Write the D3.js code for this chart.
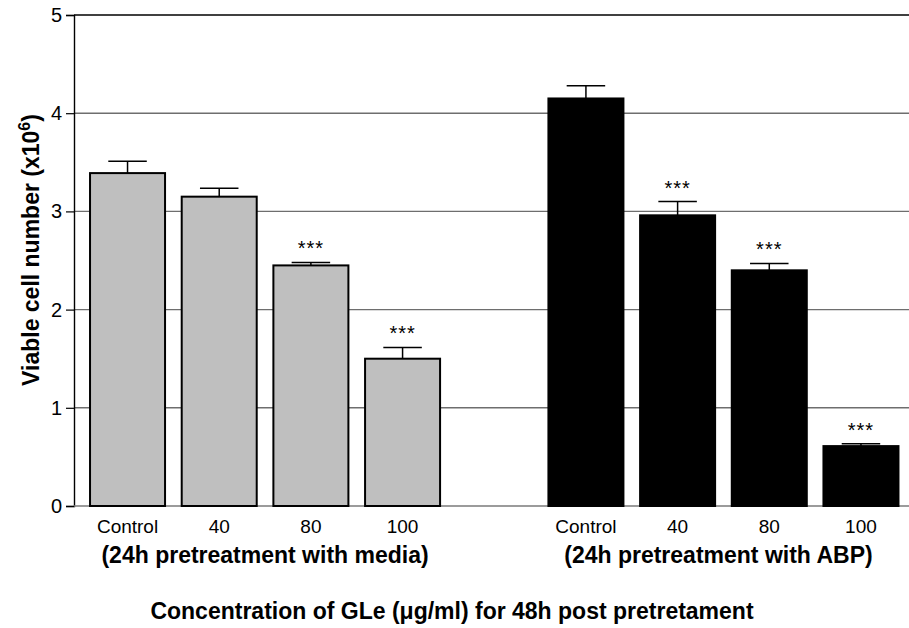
<!DOCTYPE html>
<html>
<head>
<meta charset="utf-8">
<script src="https://cdn.jsdelivr.net/npm/d3@7"></script>
<style>
  html, body { margin: 0; padding: 0; background: #fff; }
  svg text { font-family: "Liberation Sans", Arial, Helvetica, sans-serif; fill: #000; }
</style>
</head>
<body>
<svg id="chart" width="909" height="628"></svg>
<script>
// Viable cell counts (x10^6) after 48 h GLe exposure, two pretreatment groups
const categories = ["Control", "40", "80", "100", "gap", "Control ", "40 ", "80 ", "100 "];
const tickLabels = ["Control", "40", "80", "100", "", "Control", "40", "80", "100"];
const groups     = ["media", "media", "media", "media", "none", "ABP", "ABP", "ABP", "ABP"];
const means      = [3.39, 3.15, 2.45, 1.50, 0, 4.15, 2.96, 2.40, 0.61];
const sems       = [0.12, 0.085, 0.03, 0.115, 0, 0.13, 0.14, 0.07, 0.025];
const stars      = ["", "", "***", "***", "", "", "***", "***", "***"];
const yTicks     = [0, 1, 2, 3, 4, 5];
const groupLabels = [
  { group: "media", text: "(24h pretreatment with media)" },
  { group: "ABP",   text: "(24h pretreatment with ABP)" }
];

const svg = d3.select("#chart");
const W = 909;

const x = d3.scaleBand()
  .domain(categories)
  .range([74, 914.5])
  .paddingInner(0.16)
  .paddingOuter(0.164);

const y = d3.scaleLinear().domain([0, 5]).range([506, 15]);

// horizontal grid lines
svg.append("g")
  .selectAll("line")
  .data(yTicks.filter(d => d > 0))
  .join("line")
  .attr("x1", 74).attr("x2", W)
  .attr("y1", d => y(d)).attr("y2", d => y(d))
  .attr("stroke", d => d === 5 ? "#000" : "#6e6e6e")
  .attr("stroke-width", 1.4);

// y axis
const yAxis = svg.append("g")
  .attr("transform", "translate(74,0)")
  .call(d3.axisLeft(y).tickValues(yTicks).tickSize(8).tickPadding(4).tickFormat(d3.format("d")));
yAxis.select(".domain").attr("stroke", "#000").attr("stroke-width", 1.4);
yAxis.selectAll(".tick line").attr("stroke", "#000").attr("stroke-width", 1.2);
yAxis.selectAll(".tick text").attr("font-size", 20).attr("font-family", "Liberation Sans, Arial, sans-serif");

// x baseline
svg.append("line")
  .attr("x1", 74).attr("x2", W)
  .attr("y1", y(0)).attr("y2", y(0))
  .attr("stroke", "#7a7a7a").attr("stroke-width", 1.4);

// bars
const bars = svg.append("g");
categories.forEach((c, i) => {
  const g = groups[i];
  const fill = g === "media" ? "#bfbfbf" : g === "ABP" ? "#000" : "none";
  bars.append("rect")
    .attr("x", x(c) + 1)
    .attr("y", y(means[i]))
    .attr("width", x.bandwidth() - 2)
    .attr("height", Math.max(0, y(0) - y(means[i])))
    .attr("fill", fill)
    .attr("stroke", g === "none" ? "#555" : "#000")
    .attr("stroke-width", 2);
});

// error bars (upper whisker only)
const errs = svg.append("g").attr("stroke", "#000").attr("stroke-width", 1.5);
categories.forEach((c, i) => {
  if (!sems[i]) return;
  const cx = x(c) + x.bandwidth() / 2;
  const half = x.bandwidth() / 4;
  errs.append("line")
    .attr("x1", cx).attr("x2", cx)
    .attr("y1", y(means[i])).attr("y2", y(means[i] + sems[i]));
  errs.append("line")
    .attr("x1", cx - half).attr("x2", cx + half)
    .attr("y1", y(means[i] + sems[i])).attr("y2", y(means[i] + sems[i]));
});

// significance markers
svg.append("g")
  .selectAll("text")
  .data(categories.map((c, i) => ({ c, i })).filter(d => stars[d.i]))
  .join("text")
  .attr("x", d => x(d.c) + x.bandwidth() / 2)
  .attr("y", d => y(means[d.i] + sems[d.i]) - 7)
  .attr("text-anchor", "middle")
  .attr("font-size", 20)
  .attr("letter-spacing", 1)
  .text(d => stars[d.i]);

// category labels
svg.append("g")
  .selectAll("text")
  .data(categories.map((c, i) => ({ c, i })))
  .join("text")
  .attr("x", d => x(d.c) + x.bandwidth() / 2)
  .attr("y", 533)
  .attr("text-anchor", "middle")
  .attr("font-size", 19)
  .text(d => tickLabels[d.i]);

// group labels
svg.append("g")
  .selectAll("text")
  .data(groupLabels)
  .join("text")
  .attr("x", d => {
    const cs = categories.filter((c, i) => groups[i] === d.group);
    return (x(cs[0]) + x(cs[cs.length - 1]) + x.bandwidth()) / 2 - (d.group === "ABP" ? 5 : 0);
  })
  .attr("y", 563)
  .attr("text-anchor", "middle")
  .attr("font-size", 23)
  .attr("font-weight", "bold")
  .text(d => d.text);

// x axis title
svg.append("text")
  .attr("x", 452)
  .attr("y", 619)
  .attr("text-anchor", "middle")
  .attr("font-size", 23)
  .attr("font-weight", "bold")
  .text("Concentration of GLe (\u03bcg/ml) for 48h post pretretament");

// y axis title with superscript
const yt = svg.append("text")
  .attr("transform", "translate(39,250) rotate(-90)")
  .attr("text-anchor", "middle")
  .attr("font-size", 23)
  .attr("font-weight", "bold");
yt.append("tspan").text("Viable cell number (x10");
yt.append("tspan").attr("font-size", 16).attr("dy", -9).text("6");
yt.append("tspan").attr("dy", 9).text(")");
</script>
</body>
</html>
